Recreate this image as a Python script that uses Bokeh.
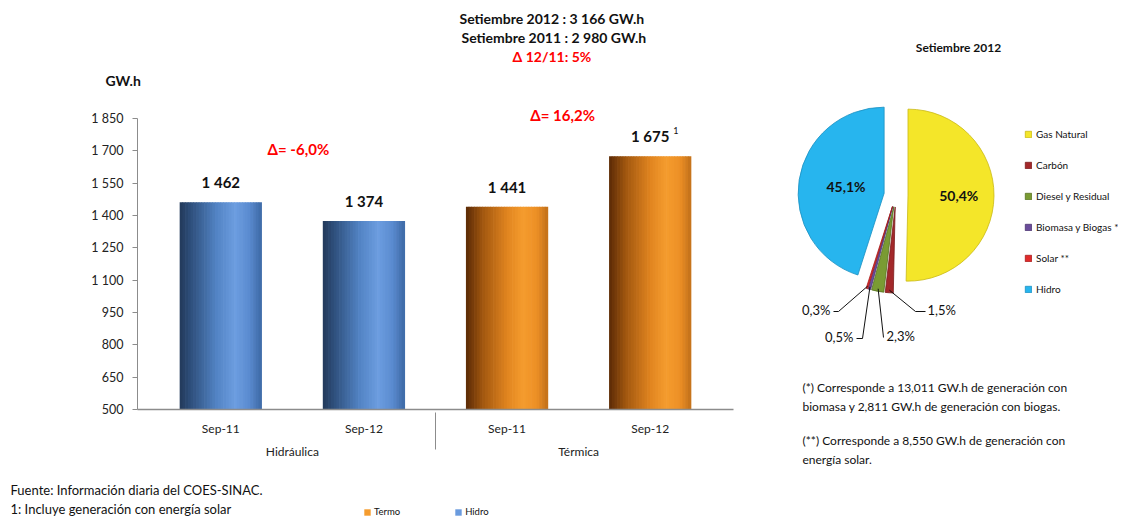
import math
import numpy as np
from bokeh.plotting import figure
from bokeh.models import (ColumnDataSource, FactorRange, FixedTicker, Title,
                          Legend, LegendItem)
from bokeh.layouts import row, column
from bokeh.transform import dodge
from bokeh.core.properties import value
from bokeh.embed import file_html
from bokeh.resources import INLINE

# ---------------- data ----------------
groups = ["Hidráulica", "Hidráulica", "Térmica", "Térmica"]
periods = ["Sep-11", "Sep-12", "Sep-11", "Sep-12"]
generation = [1462, 1374, 1441, 1675]
value_labels = ["1 462", "1 374", "1 441", "1 675"]
y_ticks = [500, 650, 800, 950, 1100, 1250, 1400, 1550, 1700, 1850]
y_tick_labels = ["500", "650", "800", "950", "1 100", "1 250", "1 400",
                 "1 550", "1 700", "1 850"]
title_lines = ["Setiembre 2012 : 3 166 GW.h", "Setiembre 2011 : 2 980 GW.h",
               "Δ 12/11: 5%"]
unit_label = "GW.h"
bar_legend = ["Termo", "Hidro"]
bar_legend_group = ["Térmica", "Hidráulica"]

pie_title = "Setiembre 2012"
pie_labels = ["Gas Natural", "Carbón", "Diesel y Residual",
              "Biomasa y Biogas *", "Solar **", "Hidro"]
pie_shares = [50.4, 1.5, 2.3, 0.5, 0.3, 45.1]
pie_share_text = ["50,4%", "1,5%", "2,3%", "0,5%", "0,3%", "45,1%"]

notes_left = ["Fuente: Información diaria del COES-SINAC.",
              "1:  Incluye generación con energía solar"]
notes_right = ["(*) Corresponde a  13,011 GW.h  de generación con",
               "biomasa y 2,811 GW.h  de generación con biogas.",
               "(**) Corresponde a  8,550 GW.h  de generación con",
               "energía solar."]

FONT = value("Lato")

# ---------------- helpers ----------------
def hex2rgb(h):
    h = h.lstrip("#")
    return [int(h[i:i + 2], 16) for i in (0, 2, 4)]

def interp(stops, t):
    for (t0, c0), (t1, c1) in zip(stops[:-1], stops[1:]):
        if t0 <= t <= t1:
            a = (t - t0) / (t1 - t0) if t1 > t0 else 0
            r0, r1 = hex2rgb(c0), hex2rgb(c1)
            c = [round(r0[i] + (r1[i] - r0[i]) * a) for i in range(3)]
            return "#%02x%02x%02x" % tuple(c)
    return stops[-1][1]

blue_stops = [(0.0, "#22395a"), (0.15, "#30527f"), (0.45, "#5283c4"),
              (0.68, "#6c9de0"), (0.85, "#5a8bd0"), (1.0, "#3e6aa6")]
orange_stops = [(0.0, "#5a2a06"), (0.2, "#a0560f"), (0.5, "#e0841f"),
                (0.7, "#f59c2e"), (0.87, "#ec8f25"), (1.0, "#c2701a")]
group_stops = {"Hidráulica": blue_stops, "Térmica": orange_stops}

# ---------------- bar chart ----------------
PX_PER_UNIT = 291 / 1350.0
FRAME_TOP, FRAME_BOTTOM = 92, 409
FRAME_H = FRAME_BOTTOM - FRAME_TOP
y_top = 500 + FRAME_H / PX_PER_UNIT

factors = list(zip(groups, periods))
p = figure(x_range=FactorRange(*factors, group_padding=0, range_padding=0.082,
                               range_padding_units="absolute",
                               factor_padding=0),
           y_range=(500, y_top), frame_width=596, frame_height=FRAME_H,
           output_backend="svg", toolbar_location=None,
           min_border_left=137, min_border_right=27, min_border_top=FRAME_TOP,
           min_border_bottom=62)
p.grid.visible = False
p.outline_line_color = None

n_strips = 30
bar_w = 0.57
strip_w = bar_w / n_strips
data = dict(x=factors, top=generation, label=value_labels)
for k in range(n_strips):
    t = (k + 0.5) / n_strips
    data["c%d" % k] = [interp(group_stops[g], t) for g in groups]
src = ColumnDataSource(data)

for k in range(n_strips):
    off = -bar_w / 2 + (k + 0.5) * strip_w
    p.vbar(x=dodge("x", off, range=p.x_range), top="top", bottom=500,
           width=strip_w * 1.25, fill_color="c%d" % k, line_color=None,
           source=src)

# value labels
p.text(x="x", y="top", text="label", source=src, y_offset=-20,
       text_align="center", text_baseline="middle", text_font=FONT,
       text_font_style="bold", text_font_size="15px", text_color="#111111")
p.text(x=[factors[3]], y=[generation[3]], text=["1"], x_offset=23,
       y_offset=-26, text_align="left", text_baseline="middle",
       text_font=FONT, text_font_size="9px", text_color="#111111")

# deltas per group (computed from data)
grp_names = ["Hidráulica", "Térmica"]
d_txt, d_y = [], []
for g in grp_names:
    vals = [v for gg, v in zip(groups, generation) if gg == g]
    d = (vals[1] / vals[0] - 1) * 100
    d_txt.append(("Δ= %.1f%%" % d).replace(".", ","))
    d_y.append(max(vals))
dsrc = ColumnDataSource(dict(x=grp_names, y=d_y, text=d_txt,
                             xo=[6, -16], yo=[-53, -41]))
p.text(x="x", y="y", text="text", x_offset="xo", y_offset="yo", source=dsrc,
       text_align="center", text_baseline="middle", text_font=FONT,
       text_font_style="bold", text_font_size="15px", text_color="#ff0000")

# axes
yax = p.yaxis[0]
yax.ticker = FixedTicker(ticks=y_ticks)
yax.major_label_overrides = {t: l for t, l in zip(y_ticks, y_tick_labels)}
yax.bounds = (500, 1850)
yax.minor_tick_line_color = None
yax.major_tick_in = 0
yax.major_tick_out = 5
yax.axis_line_color = "#8c8c8c"
yax.major_tick_line_color = "#8c8c8c"
yax.major_label_text_font = "Lato"
yax.major_label_text_font_size = "12.5px"
yax.major_label_text_color = "#222222"
yax.major_label_standoff = 9

xax = p.xaxis[0]
xax.major_tick_line_color = None
xax.minor_tick_line_color = None
xax.axis_line_color = "#8c8c8c"
xax.axis_line_width = 1.5
xax.major_label_text_font = "Lato"
xax.major_label_text_font_size = "12px"
xax.major_label_text_color = "#222222"
xax.major_label_standoff = 5
xax.group_text_font = "Lato"
xax.group_text_font_size = "12px"
xax.group_text_font_style = "normal"
xax.group_text_color = "#222222"
xax.separator_line_color = "#8c8c8c"
xax.separator_line_width = 1

# titles above (added closest to the frame first)
p.add_layout(Title(text=unit_label, align="left", offset=-32, standoff=8,
                   text_font="Lato", text_font_style="bold",
                   text_font_size="14px", text_color="#111111"), "above")
title_offsets = [322, 324, 375]
title_standoffs = [0, 0, 1]
for i in (2, 1, 0):
    p.add_layout(Title(text=title_lines[i], align="left",
                       offset=title_offsets[i], standoff=title_standoffs[i],
                       text_font="Lato", text_font_style="bold",
                       text_font_size="14px",
                       text_color="#ff0000" if i == 2 else "#111111"), "above")

# ---------------- notes strip under the bar chart ----------------
NOTES_H = 46
b = figure(width=760, height=NOTES_H, x_range=(0, 760), y_range=(0, NOTES_H),
           output_backend="svg", toolbar_location=None, min_border=0,
           x_axis_location=None, y_axis_location=None)
b.grid.visible = False
b.outline_line_color = None
b.text(x=[10, 10], y=[NOTES_H - 18, NOTES_H - 37], text=notes_left,
       text_align="left", text_baseline="middle", text_font=FONT,
       text_font_size="13px", text_color="#111111")

# legend proxies: colour of each series, no visible extent
lsrc = ColumnDataSource(dict(
    x=[0, 0], z=[0, 0], label=bar_legend,
    color=[interp(group_stops[g], 0.7) for g in bar_legend_group]))
lr = b.vbar(x="x", top="z", bottom="z", width=0, fill_color="color",
            line_color=None, source=lsrc)
leg = Legend(items=[LegendItem(label=bar_legend[i], renderers=[lr], index=i)
                    for i in range(2)],
             orientation="horizontal", location=(363, 0),
             padding=0, margin=0, spacing=54, label_standoff=3,
             glyph_width=8, glyph_height=8, label_height=9,
             label_text_font="Lato", label_text_font_size="9.5px",
             label_text_color="#111111", border_line_color=None,
             background_fill_alpha=0)
b.add_layout(leg)

# ---------------- pie chart ----------------
q = figure(width=358, height=511, x_range=(0, 358), y_range=(0, 511),
           output_backend="svg", toolbar_location=None, min_border=0,
           x_axis_location=None, y_axis_location=None)
q.grid.visible = False
q.outline_line_color = None

pie_fill = ["#f4e629", "#a3282a", "#7a9b33", "#6a4c9b", "#e12a2a", "#27b5ee"]
pie_edge = ["#c9b914", "#7a1c1c", "#56711f", "#4a346f", "#a51c1c", "#1b8fc0"]
CX, CY, R, EXPL = 135.5, 316.5, 86, 12

sh = np.array(pie_shares, dtype=float)
frac = sh / sh.sum()
cum = np.concatenate([[0.0], np.cumsum(frac)])
th0 = cum[:-1] * 2 * math.pi
th1 = cum[1:] * 2 * math.pi
thm = (th0 + th1) / 2
cx = CX + EXPL * np.sin(thm)
cy = CY + EXPL * np.cos(thm)
psrc = ColumnDataSource(dict(cx=cx, cy=cy, sa=math.pi / 2 - th0,
                             ea=math.pi / 2 - th1, color=pie_fill,
                             edge=pie_edge, label=pie_labels))
q.wedge(x="cx", y="cy", radius=R, start_angle="sa", end_angle="ea",
        direction="clock", fill_color="color", line_color="edge",
        line_width=0.8, legend_field="label", source=psrc)

big = [0, 5]
q.text(x=[cx[i] + 0.52 * R * math.sin(thm[i]) for i in big],
       y=[cy[i] + 0.52 * R * math.cos(thm[i]) for i in big],
       text=[pie_share_text[i] for i in big], x_offset=6,
       text_align="center", text_baseline="middle", text_font=FONT,
       text_font_style="bold", text_font_size="14px", text_color="#111111")

# callouts for small slices: (elbow x, elbow y, end dx, align) -- layout only
callouts = {1: (155, 200, 10, "left"), 2: (123, 174, 0, "left"),
            3: (102, 173, -6, "right"), 4: (78, 200, -5, "right")}
xs, ys, tx, ty, tt, ta = [], [], [], [], [], []
for i, (ex, ey, dx, al) in callouts.items():
    sx = cx[i] + 0.97 * R * math.sin(thm[i])
    sy = cy[i] + 0.97 * R * math.cos(thm[i])
    xs.append([sx, ex, ex + dx])
    ys.append([sy, ey, ey])
    tx.append(ex + dx + (2 if al == "left" else -3) + (1 if dx == 0 else 0))
    ty.append(ey + 2)
    tt.append(pie_share_text[i])
    ta.append(al)
q.multi_line(xs=xs, ys=ys, line_color="#111111", line_width=1)
q.text(x=tx, y=ty, text=tt, text_align=ta, text_baseline="middle",
       text_font=FONT, text_font_size="13px", text_color="#111111")

q.text(x=[198], y=[464], text=[pie_title], text_align="center",
       text_baseline="middle", text_font=FONT, text_font_style="bold",
       text_font_size="12px", text_color="#111111")
q.text(x=[42] * 4, y=[124, 105, 71, 52], text=notes_right, text_align="left",
       text_baseline="middle", text_font=FONT, text_font_size="12px",
       text_color="#111111")

pl = q.legend[0]
pl.location = (264, 216)
pl.padding = 0
pl.margin = 0
pl.spacing = 18
pl.label_standoff = 4
pl.glyph_width = 8
pl.glyph_height = 8
pl.label_height = 13
pl.label_text_font = "Lato"
pl.label_text_font_size = "10px"
pl.label_text_color = "#111111"
pl.border_line_color = None
pl.background_fill_alpha = 0

layout = row(column(p, column(b)), column(q))
open("out.html", "w").write(file_html(layout, INLINE))
